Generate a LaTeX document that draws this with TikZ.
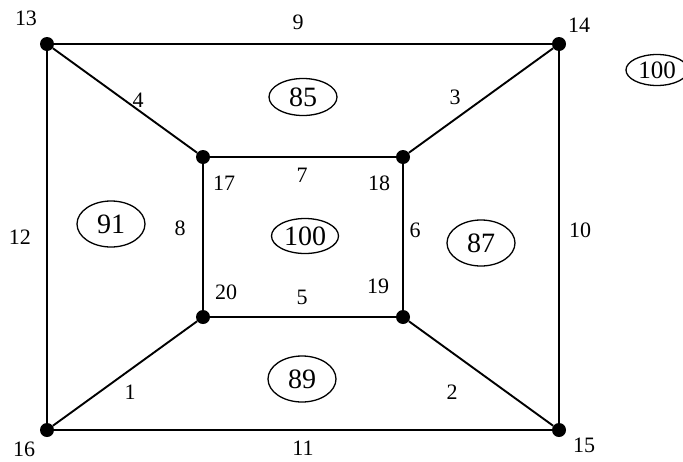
\documentclass[tikz,border=0pt]{standalone}
\usepackage{fontspec}
\setmainfont{Liberation Serif}
\usetikzlibrary{shapes.geometric}
\begin{document}
\begin{tikzpicture}[x=1pt,y=-1pt,
  vtx/.style={circle,fill=black,draw=none,minimum size=14pt,inner sep=0pt},
  lbl/.style={inner sep=0pt,font=\fontsize{22}{22}\selectfont},
  wt/.style={ellipse,draw,line width=1.3pt,minimum width=68pt,minimum height=46pt,inner sep=0pt,font=\fontsize{28}{28}\selectfont},
  edge/.style={line width=1.9pt}]
\useasboundingbox (0,0) rectangle (683,461);
% vertices
\node[vtx] (v13) at (47,44) {};
\node[vtx] (v14) at (559,44) {};
\node[vtx] (v15) at (559,430) {};
\node[vtx] (v16) at (47,430) {};
\node[vtx] (v17) at (203,157) {};
\node[vtx] (v18) at (403,157) {};
\node[vtx] (v19) at (403,317) {};
\node[vtx] (v20) at (203,317) {};
% edges
\draw[edge] (v13) -- (v14);
\draw[edge] (v14) -- (v15);
\draw[edge] (v15) -- (v16);
\draw[edge] (v16) -- (v13);
\draw[edge] (v17) -- (v18);
\draw[edge] (v18) -- (v19);
\draw[edge] (v19) -- (v20);
\draw[edge] (v20) -- (v17);
\draw[edge] (v13) -- (v17);
\draw[edge] (v14) -- (v18);
\draw[edge] (v15) -- (v19);
\draw[edge] (v16) -- (v20);
% vertex labels
\node[lbl] (l13) at (26,18) {13};
\node[lbl] (l14) at (579,25) {14};
\node[lbl] (l15) at (584,445) {15};
\node[lbl] (l16) at (24,449) {16};
\node[lbl] (l17) at (224,183) {17};
\node[lbl] (l18) at (379,183) {18};
\node[lbl] (l19) at (378,286) {19};
\node[lbl] (l20) at (226,292) {20};
% edge labels
\node[lbl] (e1) at (130,392) {1};
\node[lbl] (e2) at (452,392) {2};
\node[lbl] (e3) at (455,97) {3};
\node[lbl] (e4) at (138,100) {4};
\node[lbl] (e5) at (302,297) {5};
\node[lbl] (e6) at (415,230) {6};
\node[lbl] (e7) at (302,175) {7};
\node[lbl] (e8) at (180,228) {8};
\node[lbl] (e9) at (298,22) {9};
\node[lbl] (e10) at (580,230) {10};
\node[lbl] (e11) at (303,448) {11};
\node[lbl] (e12) at (20,237) {12};
% face weights
\node[wt,minimum height=37pt] (f85) at (303,97) {85};
\node[wt,minimum height=35pt,minimum width=67pt] (f100) at (305,236) {100};
\node[wt] (f91) at (111,224) {91};
\node[wt] (f87) at (481,243) {87};
\node[wt] (f89) at (302,379) {89};
\node[wt,minimum width=62pt,minimum height=31pt,font=\fontsize{25}{25}\selectfont] (fout) at (657,70) {100};
\end{tikzpicture}
\end{document}
